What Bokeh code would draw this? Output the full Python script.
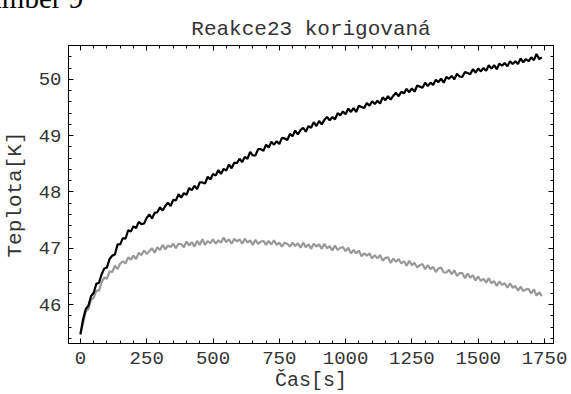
from bokeh.plotting import figure
from bokeh.models import LinearAxis, FixedTicker, Range1d, Label, Title
from bokeh.embed import file_html
from bokeh.resources import INLINE

# sample times (s), one reading every 10 s
time_s = list(range(0, 1750, 10))

temp_black = [
    45.47, 45.74, 45.92, 45.98, 46.15, 46.21, 46.37, 46.39, 46.54, 46.64,
    46.66, 46.81, 46.87, 46.89, 47.07, 47.07, 47.18, 47.17, 47.32, 47.30,
    47.39, 47.36, 47.47, 47.43, 47.44, 47.54, 47.60, 47.53, 47.63, 47.64,
    47.73, 47.67, 47.75, 47.81, 47.75, 47.86, 47.85, 47.96, 47.90, 47.98,
    47.95, 48.07, 48.03, 48.11, 48.05, 48.17, 48.17, 48.15, 48.27, 48.22,
    48.32, 48.29, 48.39, 48.32, 48.41, 48.38, 48.49, 48.42, 48.52, 48.51,
    48.59, 48.53, 48.62, 48.59, 48.71, 48.65, 48.65, 48.76, 48.76, 48.73,
    48.84, 48.79, 48.89, 48.84, 48.90, 48.85, 48.96, 48.95, 48.92, 49.03,
    48.99, 49.09, 49.02, 49.10, 49.14, 49.07, 49.17, 49.14, 49.24, 49.17,
    49.26, 49.20, 49.28, 49.33, 49.27, 49.33, 49.29, 49.40, 49.36, 49.43,
    49.38, 49.48, 49.42, 49.49, 49.42, 49.53, 49.51, 49.49, 49.58, 49.53,
    49.61, 49.56, 49.62, 49.57, 49.68, 49.63, 49.70, 49.64, 49.71, 49.76,
    49.70, 49.78, 49.75, 49.83, 49.77, 49.84, 49.78, 49.89, 49.87, 49.85,
    49.94, 49.88, 49.94, 49.90, 49.99, 49.95, 50.01, 49.94, 50.04, 50.01,
    50.06, 50.00, 50.10, 50.05, 50.04, 50.13, 50.11, 50.09, 50.18, 50.12,
    50.19, 50.14, 50.20, 50.15, 50.25, 50.19, 50.25, 50.18, 50.28, 50.24,
    50.29, 50.23, 50.32, 50.27, 50.32, 50.27, 50.37, 50.30, 50.36, 50.32,
    50.39, 50.34, 50.45, 50.36, 50.39]

temp_gray = [
    45.50, 45.67, 45.88, 45.92, 46.09, 46.12, 46.25, 46.25, 46.40, 46.48,
    46.46, 46.59, 46.58, 46.69, 46.63, 46.73, 46.77, 46.73, 46.84, 46.80,
    46.87, 46.81, 46.92, 46.88, 46.96, 46.90, 46.95, 47.00, 46.92, 47.02,
    46.97, 47.06, 46.98, 47.05, 47.02, 47.08, 47.00, 47.08, 47.07, 47.02,
    47.12, 47.05, 47.11, 47.03, 47.13, 47.06, 47.16, 47.06, 47.13, 47.09,
    47.16, 47.08, 47.14, 47.10, 47.19, 47.11, 47.16, 47.08, 47.17, 47.12,
    47.16, 47.08, 47.17, 47.10, 47.14, 47.06, 47.15, 47.08, 47.12, 47.13,
    47.06, 47.13, 47.07, 47.14, 47.06, 47.10, 47.03, 47.10, 47.08, 47.03,
    47.10, 47.04, 47.09, 47.01, 47.10, 47.02, 47.07, 46.99, 47.08, 47.03,
    47.07, 46.99, 47.08, 47.00, 47.04, 46.96, 47.05, 46.97, 47.01, 47.02,
    46.95, 47.01, 46.91, 46.97, 46.91, 46.96, 46.86, 46.91, 46.87, 46.91,
    46.82, 46.88, 46.82, 46.88, 46.78, 46.83, 46.84, 46.74, 46.82, 46.76,
    46.81, 46.73, 46.77, 46.69, 46.78, 46.70, 46.74, 46.66, 46.70, 46.72,
    46.63, 46.70, 46.63, 46.67, 46.58, 46.64, 46.66, 46.57, 46.57, 46.62,
    46.54, 46.61, 46.51, 46.56, 46.56, 46.47, 46.55, 46.48, 46.52, 46.43,
    46.50, 46.42, 46.46, 46.39, 46.47, 46.38, 46.42, 46.33, 46.41, 46.35,
    46.38, 46.30, 46.38, 46.30, 46.33, 46.25, 46.32, 46.24, 46.27, 46.28,
    46.20, 46.27, 46.16, 46.22, 46.15]

x_major = [0, 250, 500, 750, 1000, 1250, 1500, 1750]
x_minor = list(range(-50, 1800, 50))
y_major = [46, 47, 48, 49, 50]
y_minor = [45.4 + 0.2 * i for i in range(27)]

title_text = "Reakce23 korigovaná"
caption_text = "Number 9"

MONO = "Liberation Mono"
TXT = "#333333"
HIDDEN_TOP = 40   # canvas rows pushed above the top edge of the page

p = figure(width=571, height=394 + HIDDEN_TOP, output_backend="svg",
           toolbar_location=None,
           x_range=Range1d(-45, 1784), y_range=Range1d(45.31, 50.6),
           min_border_left=67, min_border_right=18,
           min_border_top=45 + HIDDEN_TOP, min_border_bottom=49,
           x_axis_label="Čas[s]", y_axis_label="Teplota[K]",
           styles={"margin-top": f"-{HIDDEN_TOP}px"})

p.grid.visible = False
p.outline_line_color = "black"
p.background_fill_color = "white"
p.border_fill_color = "white"

def style_axis(ax, ticks, minor):
    ax.ticker = FixedTicker(ticks=ticks, minor_ticks=minor)
    ax.major_tick_in = 5
    ax.major_tick_out = 0
    ax.minor_tick_in = 3
    ax.minor_tick_out = 0
    ax.axis_line_color = "black"
    ax.major_tick_line_color = "black"
    ax.minor_tick_line_color = "black"
    ax.major_label_text_font = MONO
    ax.major_label_text_font_size = "19px"
    ax.major_label_text_color = TXT
    ax.axis_label_text_font = MONO
    ax.axis_label_text_font_size = "20px"
    ax.axis_label_text_font_style = "normal"
    ax.axis_label_text_color = TXT

style_axis(p.xaxis[0], x_major, x_minor)
style_axis(p.yaxis[0], y_major, y_minor)
p.yaxis[0].axis_label_text_font_size = "21px"
p.xaxis[0].major_label_standoff = 8
p.xaxis[0].axis_label_standoff = 2
p.yaxis[0].major_label_standoff = 7
p.yaxis[0].axis_label_standoff = 9

top = LinearAxis()
right = LinearAxis()
for ax, t, m in ((top, x_major, x_minor), (right, y_major, y_minor)):
    style_axis(ax, t, m)
    ax.major_label_text_font_size = "0px"
    ax.major_label_standoff = 0
p.add_layout(top, "above")
p.add_layout(right, "right")

p.add_layout(Title(text=title_text, align="center", text_font=MONO,
                   text_font_size="21px", text_font_style="normal",
                   text_color=TXT), "above")

p.line(time_s, temp_gray, line_color="#999999", line_width=2.2)
p.line(time_s, temp_black, line_color="black", line_width=2.2)

# partially visible caption cut by the top-left edge of the page
p.add_layout(Label(x=-430, y=51.44, x_units="data", y_units="data",
                   text=caption_text, text_font="Liberation Serif",
                   text_font_size="29px", text_color="black",
                   text_baseline="alphabetic"), "above")

open("out.html", "w").write(file_html(p, INLINE))
